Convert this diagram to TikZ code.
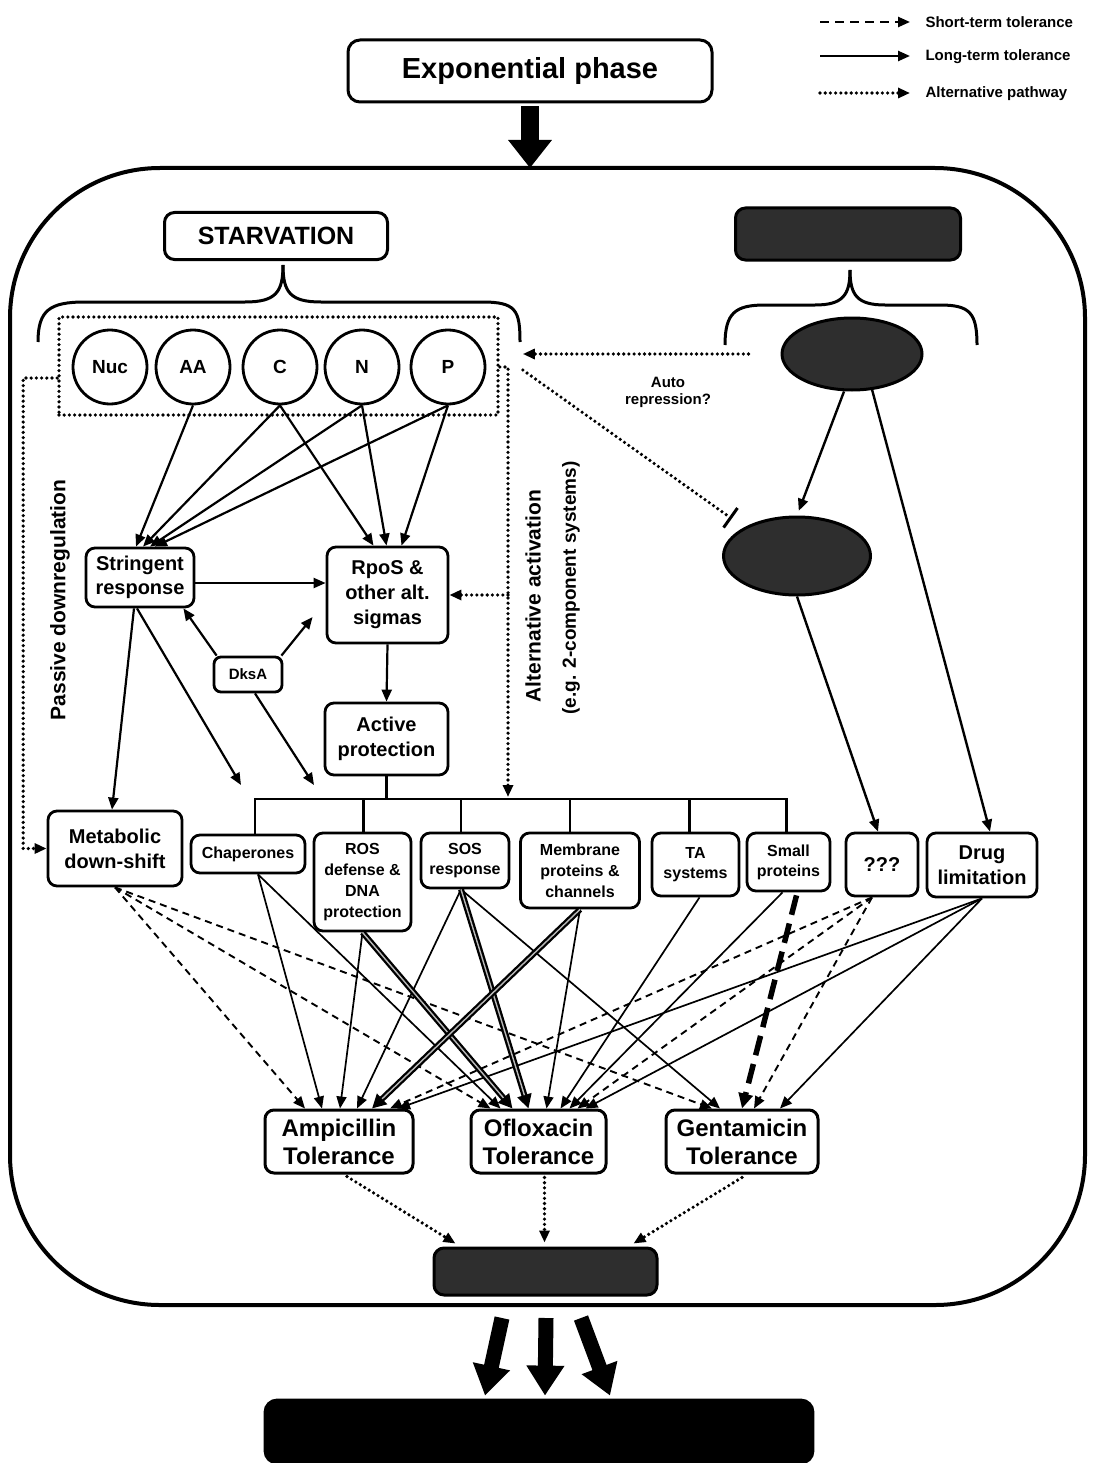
\documentclass[tikz,border=0pt]{standalone}
\usepackage{fontspec}
\setmainfont{Liberation Sans}
\usetikzlibrary{arrows.meta,shapes.geometric,calc}
\newcommand{\fsz}[2]{\fontsize{#1pt}{#2pt}\selectfont\bfseries}
\begin{document}
\begin{tikzpicture}[x=1pt,y=-1pt,
  box/.style={draw, line width=2.8pt, rounded corners=9pt, align=center, inner sep=0pt, font=\fsz{20}{25}},
  circ/.style={draw, circle, line width=2.8pt, minimum size=74pt, inner sep=0pt, font=\fsz{19}{21}},
  atip/.style={-{Triangle[length=12pt,width=10pt]}},
  conn/.style={line width=2.2pt, atip},
  thinconn/.style={line width=1.7pt, atip},
  dotline/.style={line width=3.6pt, line cap=round, dash pattern=on 0pt off 5.2pt},
  dotconn/.style={dotline, atip},
  dashconn/.style={line width=1.9pt, dash pattern=on 7pt off 5pt, atip},
  heavy/.style={line width=6pt, -{Triangle[length=14pt,width=14pt]}, postaction={draw=gray!55, line width=1.4pt, -, shorten >=14pt}},
  heavydash/.style={line width=5.5pt, dash pattern=on 20pt off 9pt, -{Triangle[length=15pt,width=14pt]}},
  darkfill/.style={fill=black!82, draw=black, line width=3pt},
  bigarrow/.style={line width=15pt, -{Triangle[length=30pt,width=36pt]}}
]
\fill[white] (0,0) rectangle (1100,1463);
\useasboundingbox (0,0) rectangle (1100,1463);

% legend
\coordinate (lg1a) at (820,22); \coordinate (lg1b) at (910,22);
\coordinate (lg2a) at (820,56); \coordinate (lg2b) at (910,56);
\coordinate (lg3a) at (820,93); \coordinate (lg3b) at (910,93);
\draw[line width=2.4pt, dash pattern=on 9pt off 6pt, atip] (lg1a) -- (lg1b);
\draw[conn, line width=2.4pt] (lg2a) -- (lg2b);
\draw[dotconn] (lg3a) -- (lg3b);
\node[anchor=west, font=\fsz{15}{17}] (lgt1) at (922,22) {Short-term tolerance};
\node[anchor=west, font=\fsz{15}{17}] (lgt2) at (922,57) {Long-term tolerance};
\node[anchor=west, font=\fsz{15}{17}] (lgt3) at (922,94) {Alternative pathway};

% top
\node[box, line width=3pt, rounded corners=12pt, minimum width=364pt, minimum height=62pt, font=\fsz{29}{32}] (exp) at (530,71) {Exponential phase};
\draw[line width=4pt, rounded corners=150pt] (10,168) rectangle (1085,1305);
\coordinate (celltop) at (530,168);
\draw[line width=18pt, -{Triangle[length=28pt,width=42pt]}, shorten <=3pt] (exp.south) -- (celltop);

\node[box, line width=3pt, rounded corners=10pt, minimum width=223pt, minimum height=47pt, font=\fsz{25}{28}] (starv) at (276,236) {STARVATION};
\node[box, darkfill, rounded corners=10pt, minimum width=225pt, minimum height=52pt] (dens) at (848,234) {};

% braces
\draw[line width=3pt] (38,342) .. controls (38,310) and (50,302) .. (85,302) -- (245,302) .. controls (276,302) and (283,292) .. (283,265);
\draw[line width=3pt] (283,265) .. controls (283,292) and (290,302) .. (321,302) -- (482,302) .. controls (516,302) and (520,310) .. (520,342);
\draw[line width=3pt] (725,345) .. controls (725,313) and (735,305) .. (765,305) -- (815,305) .. controls (843,305) and (850,295) .. (850,270);
\draw[line width=3pt] (850,270) .. controls (850,295) and (857,305) .. (885,305) -- (940,305) .. controls (970,305) and (977,313) .. (977,345);

\node[ellipse, darkfill, minimum width=140pt, minimum height=72pt] (ell1) at (852,354) {};
\node[ellipse, darkfill, minimum width=147pt, minimum height=78pt] (ell2) at (797,556) {};

% circles
\node[draw, dotline, minimum width=439pt, minimum height=98pt, inner sep=0pt] (dbox) at (278.5,366) {};
\node[circ] (nuc) at (110,367) {Nuc};
\node[circ] (aa) at (193,367) {AA};
\node[circ] (c) at (280,367) {C};
\node[circ] (n) at (362,367) {N};
\node[circ] (p) at (448,367) {P};

% middle boxes
\node[box, minimum width=108pt, minimum height=59pt, font=\fsz{20}{24}] (sr) at (140,577.5) {Stringent\\response};
\node[box, minimum width=121pt, minimum height=96pt] (rpos) at (387.5,595) {RpoS \&\\other alt.\\sigmas};
\node[box, minimum width=68pt, minimum height=35pt, rounded corners=7pt, font=\fsz{15}{17}] (dksa) at (248,674.5) {DksA};
\node[box, minimum width=123pt, minimum height=72pt] (act) at (386.5,739) {Active\\protection};

\node[rotate=90, font=\fsz{21}{23}] (passive) at (60,600) {Passive downregulation};
\node[rotate=90, font=\fsz{21}{23}] (altact) at (533,596) {Alternative activation};
\node[rotate=90, font=\fsz{19}{21}] (eg) at (571,588) {(e.g. 2-component systems)};
\node[font=\fsz{15}{17}, align=center] (auto) at (668,392) {Auto\\repression?};

% effector boxes
\node[box, minimum width=134pt, minimum height=75pt] (met) at (115,848.5) {Metabolic\\down-shift};
\node[box, minimum width=114pt, minimum height=38pt, font=\fsz{16}{20}] (chap) at (248,854) {Chaperones};
\node[box, minimum width=97pt, minimum height=98pt, font=\fsz{16}{21}] (ros) at (362.5,882) {ROS\\defense \&\\DNA\\protection};
\node[box, minimum width=88pt, minimum height=55pt, font=\fsz{16}{20}] (sos) at (465,860.5) {SOS\\response};
\node[box, minimum width=119pt, minimum height=75pt, font=\fsz{16}{21}] (mem) at (580,870.5) {Membrane\\proteins \&\\channels};
\node[box, minimum width=87pt, minimum height=63pt, font=\fsz{16}{20}] (ta) at (695.5,864.5) {TA\\systems};
\node[box, minimum width=83pt, minimum height=58pt, font=\fsz{16}{20}] (sm) at (788.5,862) {Small\\proteins};
\node[box, minimum width=72pt, minimum height=63pt] (qqq) at (882,864.5) {???};
\node[box, minimum width=110pt, minimum height=64pt] (drug) at (982,865) {Drug\\limitation};

% tolerance
\node[box, line width=3pt, minimum width=148pt, minimum height=63pt, font=\fsz{24}{28}] (amp) at (339,1141.5) {Ampicillin\\Tolerance};
\node[box, line width=3pt, minimum width=135pt, minimum height=63pt, font=\fsz{24}{28}] (oflox) at (538.5,1141.5) {Ofloxacin\\Tolerance};
\node[box, line width=3pt, minimum width=152pt, minimum height=63pt, font=\fsz{24}{28}] (gent) at (742,1141.5) {Gentamicin\\Tolerance};
\node[box, darkfill, rounded corners=10pt, minimum width=223pt, minimum height=47pt] (dark) at (545.5,1271.5) {};
\node[box, fill=black, rounded corners=12pt, minimum width=548pt, minimum height=63pt] (bot) at (539,1431.5) {};

% circles -> SR / RpoS
\draw[conn] (aa.south) -- ($(sr.north)+(-4,0)$);
\draw[conn] (c.south) -- ($(sr.north)+(3,0)$);
\draw[conn] (n.south) -- ($(sr.north)+(10,0)$);
\draw[conn] (p.south) -- ($(sr.north)+(15,0)$);
\draw[conn] (c.south) -- ($(rpos.north)+(-14,0)$);
\draw[conn] (n.south) -- ($(rpos.north)+(-1,0)$);
\draw[conn] (p.south) -- ($(rpos.north)+(14,0)$);

\draw[conn] ($(sr.east)+(0,5.5)$) -- ($(rpos.west)+(0,-12)$);
\draw[conn] ($(sr.south)+(-6,0)$) -- ($(met.north)+(-3,0)$);
\coordinate (srend) at (241,785);
\draw[conn] ($(sr.south)+(-3,0)$) -- (srend);
\draw[conn] ($(dksa.north west)+(4,0)$) -- ($(sr.south east)+(-12,0)$);
\draw[conn] ($(dksa.north east)+(-2,0)$) -- ($(rpos.west)+(-13,22)$);
\coordinate (dkend) at (314,785);
\draw[conn] ($(dksa.south)+(7,0)$) -- (dkend);
\draw[conn] (rpos.south) -- (act.north);

% bus
\coordinate (busy) at (0,800);
\draw[line width=2.2pt] (act.south) -- (act.south |- busy);
\draw[line width=2.2pt] ($(chap.north)+(7,0)$) -- ++(0,-35) -| ($(sm.north)+(-2,0)$);
\draw[line width=2.2pt] ($(ros.north)+(1,0)$) -- ++(0,-33);
\draw[line width=2.2pt] ($(sos.north)+(-4,0)$) -- ++(0,-33);
\draw[line width=2.2pt] ($(mem.north)+(-10,0)$) -- ++(0,-33);
\draw[line width=2.2pt] ($(ta.north)+(-6,0)$) -- ++(0,-33);

% dotted pathways
\draw[dotconn] ($(dbox.west)+(0,12)$) -- ++(-34,0) |- (met.west);
\coordinate (altx) at (508,367);
\coordinate (altb) at (508,797);
\coordinate (altr) at (508,595);
\draw[dotconn] ($(dbox.east)+(0,1)$) -- (altx) -- (altb);
\draw[dotconn] (altr) -- (rpos.east);
\draw[dotconn, shorten <=32pt, shorten >=23pt] (ell1.west) -- (ell1.west -| dbox.east);
\draw[dotline, -{Bar[width=24pt, line width=3pt]}, shorten >=15pt] ($(dbox.east)+(23,4)$) -- (ell2.north west);

% cell density pathway
\draw[conn, line width=2.4pt, shorten >=5pt] ($(ell1.south)+(-8,0)$) -- (ell2.north);
\draw[conn, line width=2.4pt] ($(ell1.south)+(20,-2)$) -- ($(drug.north)+(8,0)$);
\draw[conn, line width=2.4pt] (ell2.south) -- ($(qqq.north)+(-4,0)$);

% effectors -> tolerance
\draw[dashconn] (met.south) -- ($(amp.north)+(-34,0)$);
\draw[dashconn] (met.south) -- ($(oflox.north)+(-48,0)$);
\draw[dashconn] (met.south) -- ($(gent.north)+(-30,0)$);
\draw[thinconn] ($(chap.south)+(10,0)$) -- ($(amp.north)+(-17,0)$);
\draw[thinconn] ($(chap.south)+(10,0)$) -- ($(oflox.north)+(-38,0)$);
\draw[thinconn] (ros.south) -- ($(amp.north)+(1,0)$);
\draw[thinconn] ($(sos.south)+(-4,0)$) -- ($(amp.north)+(18,0)$);
\draw[thinconn] ($(sos.south)+(-4,0)$) -- ($(gent.north)+(-22,0)$);
\draw[thinconn] (mem.south) -- ($(oflox.north)+(8,0)$);
\draw[thinconn] ($(ta.south)+(4,0)$) -- ($(oflox.north)+(22,0)$);
\draw[thinconn] ($(sm.south)+(-6,0)$) -- ($(oflox.north)+(31,0)$);
\draw[dashconn] ($(qqq.south)+(-10,0)$) -- ($(amp.north)+(51,0)$);
\draw[dashconn] ($(qqq.south)+(-10,0)$) -- ($(oflox.north)+(39,0)$);
\draw[dashconn] ($(qqq.south)+(-10,0)$) -- ($(gent.north)+(12,0)$);
\draw[thinconn] (drug.south) -- ($(amp.north)+(59,0)$);
\draw[thinconn] (drug.south) -- ($(oflox.north)+(47,0)$);
\draw[thinconn] (drug.south) -- ($(gent.north)+(38,0)$);
\draw[heavy] (ros.south) -- ($(oflox.north)+(-26,0)$);
\draw[heavy] ($(sos.south)+(-4,0)$) -- ($(oflox.north)+(-10,0)$);
\draw[heavy] (mem.south) -- ($(amp.north)+(33,0)$);
\draw[heavydash] ($(sm.south)+(8,3)$) -- (gent.north);

% tolerance -> dark
\draw[dotconn] ($(amp.south)+(8,2)$) -- ($(dark.north west)+(23,-3)$);
\draw[dotconn] ($(oflox.south)+(6,3)$) -- ($(dark.north)+(-1,-4)$);
\draw[dotconn] ($(gent.south)+(0,3)$) -- ($(dark.north east)+(-25,-3)$);

% bottom arrows
\coordinate (a1) at (502,1318);
\coordinate (a2) at (546,1318);
\coordinate (a3) at (581,1318);
\draw[bigarrow] (a1) -- ($(bot.north)+(-54,-3)$);
\draw[bigarrow] (a2) -- ($(bot.north)+(6,-3)$);
\draw[bigarrow] (a3) -- ($(bot.north)+(71,-3)$);
\end{tikzpicture}
\end{document}
